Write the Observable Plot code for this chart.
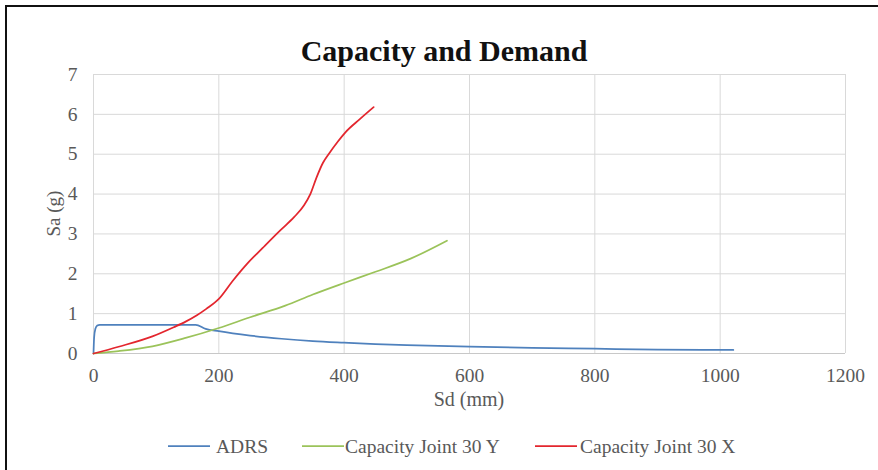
<!DOCTYPE html>
<html>
<head>
<meta charset="utf-8">
<script src="https://cdn.jsdelivr.net/npm/d3@7"></script>
<script src="https://cdn.jsdelivr.net/npm/@observablehq/plot@0.6"></script>
<style>
  html, body { margin: 0; padding: 0; background: #fff; }
  #wrap { position: relative; width: 878px; height: 470px; overflow: hidden; background: #fff; font-family: "Liberation Serif", "Times New Roman", serif; }
  #border { position: absolute; left: 5px; top: 5px; right: -10px; bottom: -10px; border-top: 2px solid #111; border-left: 2px solid #111; }
  #chart { position: absolute; left: 0; top: 0; }
  #overlay { position: absolute; left: 0; top: 0; pointer-events: none; }
</style>
</head>
<body>
<div id="wrap">
  <div id="border"></div>
  <div id="chart"></div>
  <svg id="overlay" width="878" height="470"></svg>
</div>
<script>
// ---- Data ----
const adrsSd = [0, 1, 3, 6, 10, 40, 80, 120, 163, 179, 200, 250, 300, 350, 400, 450, 500, 600, 700, 800, 900, 1000, 1021];
const adrsSa = [0, 0.40, 0.62, 0.70, 0.72, 0.72, 0.72, 0.72, 0.72, 0.62, 0.56, 0.45, 0.37, 0.31, 0.27, 0.235, 0.21, 0.17, 0.14, 0.12, 0.10, 0.09, 0.088];

const capYSd = [0, 40, 94, 147, 200, 250, 306, 350, 400, 450, 506, 564];
const capYSa = [0, 0.06, 0.18, 0.39, 0.64, 0.91, 1.20, 1.48, 1.77, 2.05, 2.38, 2.83];

const capXSd = [0, 40, 94, 128, 147, 165, 180, 200, 222, 245, 270, 298, 320, 336, 346, 356, 366, 376, 390, 402, 425, 447];
const capXSa = [0, 0.17, 0.43, 0.66, 0.80, 0.96, 1.12, 1.37, 1.82, 2.25, 2.65, 3.09, 3.42, 3.72, 4.00, 4.42, 4.78, 5.02, 5.32, 5.55, 5.88, 6.18];

const seriesNames = ["ADRS", "Capacity Joint 30 Y", "Capacity Joint 30 X"];
const seriesColors = ["#4F81BD", "#9BC35A", "#E3262E"];
const xTicks = [0, 200, 400, 600, 800, 1000, 1200];
const yTicks = [0, 1, 2, 3, 4, 5, 6, 7];
const titleText = "Capacity and Demand";
const xLabel = "Sd (mm)";
const yLabel = "Sa (g)";

const toRows = (xs, ys, name) => xs.map((x, i) => ({x, y: ys[i], name}));
const rows = [
  ...toRows(adrsSd, adrsSa, seriesNames[0]),
  ...toRows(capYSd, capYSa, seriesNames[1]),
  ...toRows(capXSd, capXSa, seriesNames[2])
];

const W = 878, H = 420;
const plot = Plot.plot({
  width: W,
  height: H,
  marginTop: 74,
  marginBottom: 67,
  marginLeft: 93,
  marginRight: 33,
  style: {fontFamily: '"Liberation Serif", "Times New Roman", serif', fontSize: "19.5px", color: "#595959", background: "transparent"},
  x: {domain: [0, 1200], ticks: xTicks, label: null},
  y: {domain: [0, 7], ticks: yTicks, label: null},
  color: {domain: seriesNames, range: seriesColors},
  marks: [
    Plot.gridX(xTicks, {stroke: "#D9D9D9", strokeOpacity: 1, strokeWidth: 1}),
    Plot.gridY(yTicks, {stroke: "#D9D9D9", strokeOpacity: 1, strokeWidth: 1}),
    Plot.ruleY([0], {stroke: "#C8C8C8", strokeWidth: 1}),
    Plot.axisX({ticks: xTicks, tickSize: 0, tickPadding: 15, fill: "#595959", label: null, tickFormat: d => String(d)}),
    Plot.axisY({ticks: yTicks, tickSize: 0, tickPadding: 16, fill: "#595959", label: null, tickFormat: d => String(d)}),
    Plot.line(rows, {x: "x", y: "y", z: "name", stroke: "name", strokeWidth: 1.75, curve: "monotone-x"})
  ]
});
document.getElementById("chart").appendChild(plot);

// ---- Title, axis labels, legend ----
const ov = d3.select("#overlay");
const fam = '"Liberation Serif", "Times New Roman", serif';
ov.append("text").attr("x", 444).attr("y", 61).attr("text-anchor", "middle")
  .attr("font-family", fam).attr("font-weight", "bold").attr("font-size", 30).attr("fill", "#111")
  .text(titleText);
ov.append("text").attr("x", 469).attr("y", 406).attr("text-anchor", "middle")
  .attr("font-family", fam).attr("font-size", 20).attr("fill", "#595959")
  .text(xLabel);
ov.append("text").attr("transform", "translate(60,213.5) rotate(-90)").attr("text-anchor", "middle")
  .attr("font-family", fam).attr("font-size", 19).attr("fill", "#595959")
  .text(yLabel);

const legendLineX = [168, 302, 535];
const legendTextX = [216, 345, 580];
const legendY = 446;
seriesNames.forEach((name, i) => {
  ov.append("line").attr("x1", legendLineX[i]).attr("x2", legendLineX[i] + 42)
    .attr("y1", legendY).attr("y2", legendY)
    .attr("stroke", seriesColors[i]).attr("stroke-width", 1.75);
  ov.append("text").attr("x", legendTextX[i]).attr("y", legendY + 7)
    .attr("font-family", fam).attr("font-size", 19.5).attr("fill", "#595959")
    .text(name);
});
</script>
</body>
</html>
